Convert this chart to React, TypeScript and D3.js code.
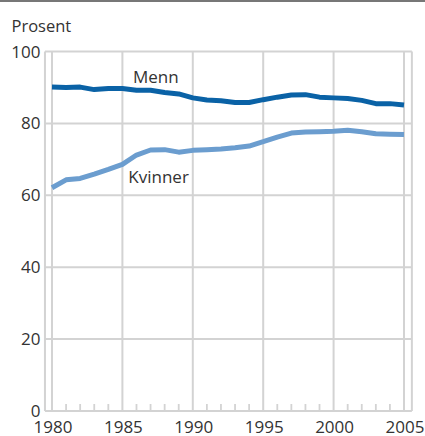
import React from "react";
import * as d3 from "d3";

const years = d3.range(1980, 2006);
const menn = [90.1, 90.0, 90.1, 89.4, 89.7, 89.7, 89.2, 89.2, 88.6, 88.2, 87.1, 86.5, 86.3, 85.8, 85.8, 86.6, 87.3, 87.9, 88.0, 87.3, 87.1, 86.9, 86.4, 85.5, 85.5, 85.1];
const kvinner = [62.1, 64.3, 64.7, 65.9, 67.2, 68.6, 71.2, 72.6, 72.7, 72.0, 72.5, 72.7, 72.9, 73.2, 73.7, 74.9, 76.2, 77.3, 77.6, 77.7, 77.8, 78.1, 77.7, 77.1, 77.0, 76.9];
const yTicks = [0, 20, 40, 60, 80, 100];
const xTicks = [1980, 1985, 1990, 1995, 2000, 2005];
const minorTicks = years.filter((y) => y % 5 !== 0);

const W = 425;
const H = 436;
const FONT = "'Open Sans', sans-serif";
const TEXT = "#333";
const GRID = "#d3d3d3";

export default function App() {
  const x = d3.scaleLinear().domain([1980, 2005]).range([52, 404]);
  const y = d3.scaleLinear().domain([0, 100]).range([411, 51.5]);
  const xl = x(1979.5);
  const xr = x(2005.56);

  const line = d3
    .line<number>()
    .x((_, i) => x(years[i]))
    .y((d) => y(d))
    .curve(d3.curveLinear);

  return (
    <svg width={W} height={H} style={{ position: "absolute", left: 0, top: 0 }} fontFamily={FONT}>
      <rect width={W} height={H} fill="#fff" />
      <line x1={0} x2={W} y1={1} y2={1} stroke="#777" strokeWidth={2} />
      <text x={11.5} y={32} fontSize={16.5} fill={TEXT}>Prosent</text>

      {/* horizontal gridlines */}
      {yTicks.map((t) => (
        <line key={"h" + t} x1={xl} x2={xr} y1={y(t)} y2={y(t)} stroke={GRID} strokeWidth={2} />
      ))}
      {/* vertical gridlines + borders */}
      {[xl, ...xTicks.map((t) => x(t)), xr].map((px, i) => (
        <line key={"v" + i} x1={px} x2={px} y1={y(100)} y2={y(0)} stroke={GRID} strokeWidth={2} />
      ))}
      {/* minor ticks */}
      {minorTicks.map((t) => (
        <line key={"m" + t} x1={x(t)} x2={x(t)} y1={y(0)} y2={y(0) - 7} stroke={GRID} strokeWidth={1.8} />
      ))}

      {/* y labels */}
      {yTicks.map((t) => (
        <text key={"yl" + t} x={40.5} y={y(t) + 6} textAnchor="end" fontSize={17} fill={TEXT}>
          {t}
        </text>
      ))}
      {/* x labels */}
      {xTicks.map((t) => (
        <text key={"xl" + t} x={x(t) + 1} y={433} textAnchor="middle" fontSize={17} fill={TEXT}>
          {t}
        </text>
      ))}

      <path d={line(kvinner) || ""} fill="none" stroke="#6b9dcf" strokeWidth={5} strokeLinejoin="round" />
      <path d={line(menn) || ""} fill="none" stroke="#0a62a6" strokeWidth={5} strokeLinejoin="round" />

      <text x={x(1985.75)} y={y(91.3)} fontSize={17} fill={TEXT}>Menn</text>
      <text x={x(1985.42)} y={y(63.5)} fontSize={17} fill={TEXT}>Kvinner</text>
    </svg>
  );
}
